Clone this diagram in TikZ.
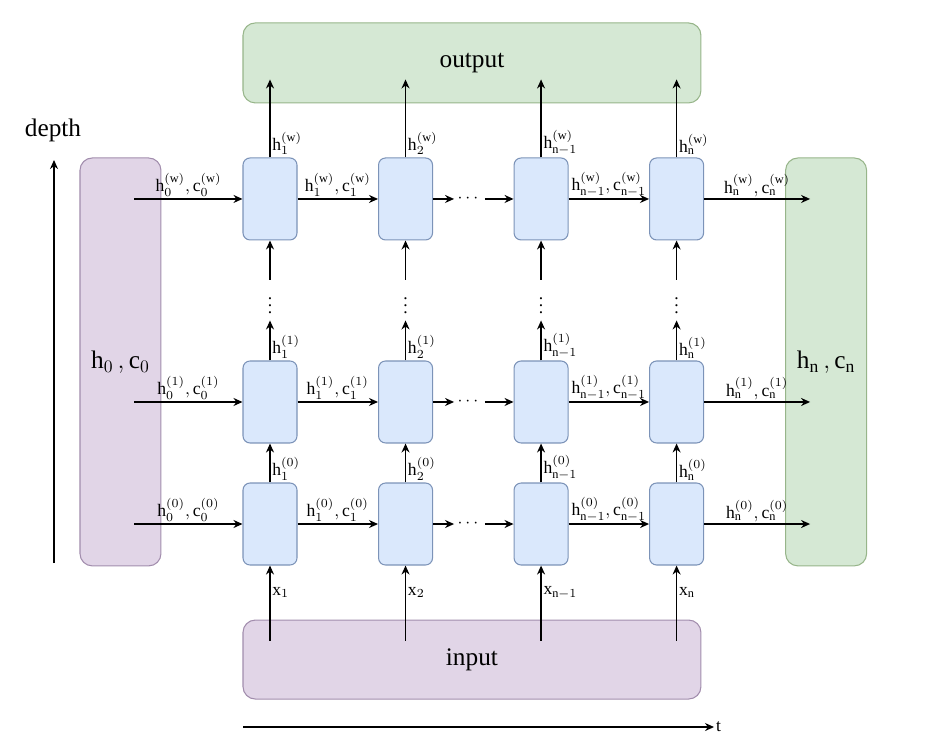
\documentclass[tikz,border=0pt]{standalone}
\usepackage{amsmath}
\usepackage{fontspec}
\setmainfont{Liberation Serif}
\usepackage{tikz}
\usetikzlibrary{arrows.meta,%
                positioning}

\definecolor{cellfill}{HTML}{DAE8FC}
\definecolor{cellline}{HTML}{7C93B8}
\definecolor{greenfill}{HTML}{D5E8D4}
\definecolor{greenline}{HTML}{97B58A}
\definecolor{purplefill}{HTML}{E1D5E7}
\definecolor{purpleline}{HTML}{A28DAD}

\newcommand{\hcpair}[2]{$\mathrm{h}_{#1}^{(#2)},\mathrm{c}_{#1}^{(#2)}$}
\newcommand{\hlab}[2]{$\mathrm{h}_{#1}^{(#2)}$}

\begin{document}
\begin{tikzpicture}[x = 0.02cm, y = -0.02cm, >={Stealth[length=1.8mm, width=1.6mm]}]
  \tikzstyle{every node} = [inner sep = 1pt]
\tikzset{CellStyle/.style = {draw = cellline, fill = cellfill, rounded corners = 4pt,
                             line width = 0.6pt, minimum width = 1.08cm, minimum height = 1.64cm}}
\tikzset{BoxStyle/.style = {rounded corners = 7pt, line width = 0.6pt, font = \Large}}
\tikzset{DotStyle/.style = {inner sep = 0pt, minimum width = 0.6cm, minimum height = 0.8cm}}
\tikzset{EdgeStyle/.style = {->, line width = 0.8pt}}
\useasboundingbox (0,0) rectangle (925,748);

% layer 0
\node[CellStyle] (C01) at (270,524) {};
\node[CellStyle, right = 1.61cm of C01] (C02) {};
\node[DotStyle, right = 0.42cm of C02] (D0) {$\cdots$};
\node[CellStyle, right = 1.61cm of C02] (C03) {};
\node[CellStyle, right = 1.61cm of C03] (C04) {};
% layer 1
\node[CellStyle, above = 0.78cm of C01] (C11) {};
\node[CellStyle, right = 1.61cm of C11] (C12) {};
\node[DotStyle, right = 0.42cm of C12] (D1) {$\cdots$};
\node[CellStyle, right = 1.61cm of C12] (C13) {};
\node[CellStyle, right = 1.61cm of C13] (C14) {};
% layer w
\node[CellStyle, above = 2.4cm of C11] (C21) {};
\node[CellStyle, right = 1.61cm of C21] (C22) {};
\node[DotStyle, right = 0.42cm of C22] (D2) {$\cdots$};
\node[CellStyle, right = 1.61cm of C22] (C23) {};
\node[CellStyle, right = 1.61cm of C23] (C24) {};
\node[DotStyle, above = 0.8cm of C11] (V1) {$\vdots$};
\node[DotStyle, above = 0.8cm of C12] (V2) {$\vdots$};
\node[DotStyle, above = 0.8cm of C13] (V3) {$\vdots$};
\node[DotStyle, above = 0.8cm of C14] (V4) {$\vdots$};

\node[BoxStyle, draw = greenline, fill = greenfill, minimum width = 9.16cm, minimum height = 1.6cm,
      above = 1.08cm of C21.north west, anchor = south west] (Out) {output};
\node[BoxStyle, draw = purpleline, fill = purplefill, minimum width = 9.16cm, minimum height = 1.58cm,
      below = 1.08cm of C01.south west, anchor = north west] (In) {input};
\node[BoxStyle, draw = purpleline, fill = purplefill, minimum width = 1.62cm, minimum height = 8.16cm,
      left = 1.62cm of C21.north west, anchor = north east] (H0) {$\mathrm{h}_0\,,\mathrm{c}_0$};
\node[BoxStyle, draw = greenline, fill = greenfill, minimum width = 1.62cm, minimum height = 8.16cm,
      right = 1.62cm of C24.north east, anchor = north west] (Hn) {$\mathrm{h}_\mathrm{n}\,,\mathrm{c}_\mathrm{n}$};

\foreach \r/\s in {0/0, 1/1, 2/\mathrm{w}} {
  \path (H0.east |- C\r1) ++(-27,0) coordinate (S\r);
  \path (Hn.west |- C\r4) ++(25,0) coordinate (E\r);
  \draw[EdgeStyle] (S\r) -- node[above] {\hcpair{0}{\s}} (C\r1);
  \draw[EdgeStyle] (C\r1) -- node[above] {\hcpair{1}{\s}} (C\r2);
  \draw[EdgeStyle] (C\r2) -- (D\r);
  \draw[EdgeStyle] (D\r) -- (C\r3);
  \draw[EdgeStyle] (C\r3) -- node[above] {\hcpair{\mathrm{n}-1}{\s}} (C\r4);
  \draw[EdgeStyle] (C\r4) -- node[above] {\hcpair{\mathrm{n}}{\s}} (E\r);
}

\foreach \c/\k in {1/1, 2/2, 3/\mathrm{n}-1, 4/\mathrm{n}} {
  \path (C0\c |- In.north) ++(0,21) coordinate (I\c);
  \path (C2\c |- Out.south) ++(0,-24) coordinate (O\c);
  \draw[EdgeStyle] (I\c) -- node[right, pos = 0.64] {$\mathrm{x}_{\k}$} (C0\c);
  \draw[EdgeStyle] (C0\c) -- node[at start, anchor = south west] {\hlab{\k}{0}} (C1\c);
  \draw[EdgeStyle] (C1\c) -- node[at start, anchor = south west] {\hlab{\k}{1}} (V\c);
  \draw[EdgeStyle] (V\c) -- (C2\c);
  \draw[EdgeStyle] (C2\c) -- node[at start, anchor = south west] {\hlab{\k}{\mathrm{w}}} (O\c);
}

% axes
\coordinate (Dp0) at (54,563);
\coordinate (Dp1) at (54,160);
\draw[EdgeStyle] (Dp0) -- (Dp1);
\node[font = \Large] (Depth) at (53,130) {depth};
\coordinate (T0) at (243,727);
\coordinate (T1) at (714,727);
\draw[EdgeStyle] (T0) -- (T1);
\node[right] (Time) at (T1) {$\mathrm{t}$};
\end{tikzpicture}
\end{document}
